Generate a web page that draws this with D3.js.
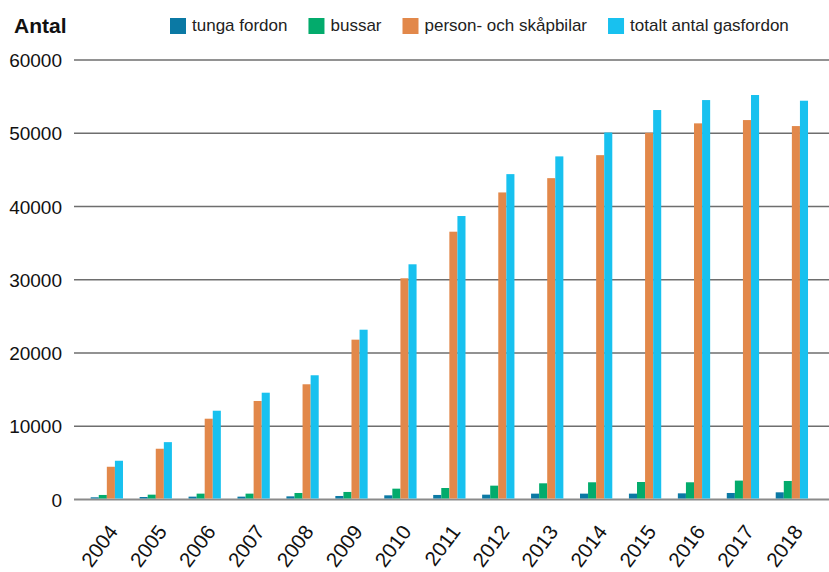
<!DOCTYPE html>
<html>
<head>
<meta charset="utf-8">
<script src="https://cdn.jsdelivr.net/npm/d3@7"></script>
<style>
  html, body { margin: 0; padding: 0; background: #fff; }
  svg { display: block; font-family: "Liberation Sans", Arial, sans-serif; }
</style>
</head>
<body>
<svg id="chart" width="829" height="572"></svg>
<script>
// Gasfordon i trafik per år
const years = ["2004","2005","2006","2007","2008","2009","2010","2011","2012","2013","2014","2015","2016","2017","2018"];
const tungaFordon = [300, 340, 390, 390, 430, 480, 570, 620, 660, 800, 800, 800, 840, 890, 980];
const bussar = [620, 660, 800, 800, 890, 1030, 1480, 1570, 1890, 2210, 2350, 2390, 2350, 2580, 2530];
const personOchSkapbilar = [4470, 6930, 11030, 13450, 15730, 21820, 30200, 36560, 41920, 43870, 47010, 50060, 51350, 51800, 50980];
const totaltGasfordon = [5290, 7830, 12120, 14580, 16960, 23180, 32110, 38700, 44420, 46840, 50100, 53170, 54530, 55220, 54440];
const seriesNames = ["tunga fordon", "bussar", "person- och skåpbilar", "totalt antal gasfordon"];
const seriesColors = ["#0b79a4", "#03ab6c", "#e2884a", "#18c1ef"];
const yTicks = [0, 10000, 20000, 30000, 40000, 50000, 60000];

const seriesValues = [tungaFordon, bussar, personOchSkapbilar, totaltGasfordon];
const rows = years.map((yr, i) => ({ year: yr, values: seriesValues.map(s => s[i]) }));

const svg = d3.select("#chart");

const y = d3.scaleLinear().domain([0, 60000]).range([499.5, 60]);
const x = d3.scaleBand().domain(years).range([74, 829])
  .paddingInner(0.34).paddingOuter(0.385).align(0.443);
const xs = d3.scaleBand().domain(d3.range(seriesNames.length)).range([0, x.bandwidth()]);

// Gridlines and value axis
const yAxis = d3.axisLeft(y).tickValues(yTicks).tickFormat(d3.format("d")).tickSize(0).tickPadding(0);
const gy = svg.append("g").attr("transform", "translate(62,0)").call(yAxis);
gy.select(".domain").remove();
gy.selectAll("text").attr("font-size", 19).attr("fill", "#111")
  .attr("font-family", "'Liberation Sans', Arial, sans-serif").attr("x", 0).attr("dy", "0.35em");

svg.append("g").selectAll("line").data(yTicks).join("line")
  .attr("x1", 74).attr("x2", 829)
  .attr("y1", d => y(d)).attr("y2", d => y(d))
  .attr("stroke", d => d === 0 ? "#8a8a8a" : "#6e6e6e")
  .attr("stroke-width", d => d === 0 ? 2 : 1.4);

// Bars
const groups = svg.append("g").selectAll("g").data(rows).join("g")
  .attr("transform", d => `translate(${x(d.year)},0)`);
groups.selectAll("rect").data(d => d.values.map((v, k) => ({ k, v }))).join("rect")
  .attr("x", d => xs(d.k))
  .attr("width", xs.bandwidth())
  .attr("y", d => y(d.v))
  .attr("height", d => y(0) - 1 - y(d.v))
  .attr("fill", d => seriesColors[d.k]);

// Year labels
const xAxis = d3.axisBottom(x).tickSize(0).tickPadding(0);
const gx = svg.append("g").attr("transform", "translate(0,532)").call(xAxis);
gx.select(".domain").remove();
gx.selectAll("text")
  .attr("font-size", 20.5).attr("fill", "#111")
  .attr("font-family", "'Liberation Sans', Arial, sans-serif")
  .attr("text-anchor", "end")
  .attr("dy", 0).attr("y", 0)
  .attr("transform", "translate(12,0) rotate(-53)");

// Axis title
svg.append("text").attr("x", 14).attr("y", 33)
  .attr("font-size", 21).attr("font-weight", "bold").attr("fill", "#111")
  .text("Antal");

// Legend
const legend = svg.append("g");
let lx = 170;
seriesNames.forEach((name, k) => {
  legend.append("rect").attr("x", lx).attr("y", 18).attr("width", 16).attr("height", 16)
    .attr("fill", seriesColors[k]);
  const t = legend.append("text").attr("x", lx + 22).attr("y", 31)
    .attr("font-size", 17).attr("fill", "#222").text(name);
  lx += 22 + t.node().getComputedTextLength() + 21;
});
</script>
</body>
</html>
